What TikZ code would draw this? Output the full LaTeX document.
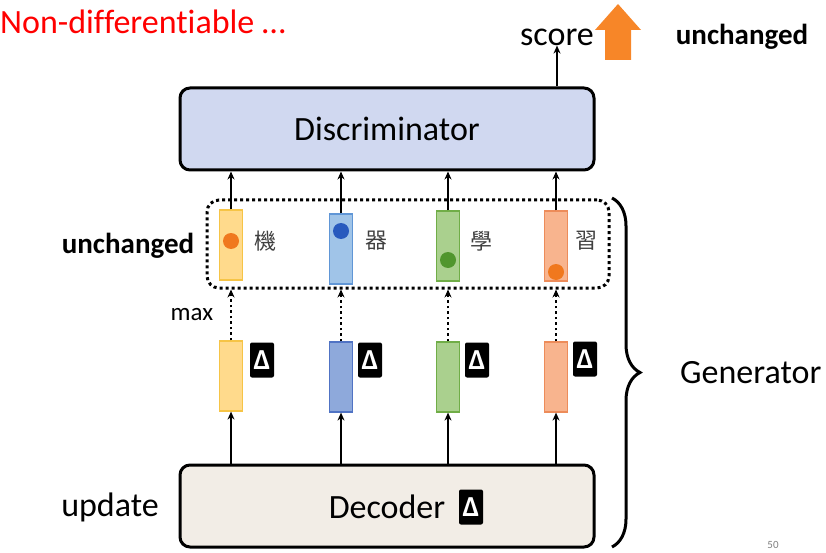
\documentclass[tikz,border=0pt]{standalone}
\usepackage{fontspec}
\setmainfont{Carlito}[Ligatures=NoCommon]
\newfontfamily\cjk{Noto Sans CJK TC}
\usetikzlibrary{arrows.meta,decorations.pathreplacing}
\definecolor{discfill}{RGB}{208,216,240}
\definecolor{decfill}{RGB}{242,237,230}
\definecolor{yelF}{RGB}{255,218,140}\definecolor{yelD}{RGB}{246,196,70}
\definecolor{bluF}{RGB}{160,196,232}\definecolor{bluD}{RGB}{96,150,214}
\definecolor{blu2F}{RGB}{142,169,219}\definecolor{blu2D}{RGB}{80,115,196}
\definecolor{greF}{RGB}{170,208,142}\definecolor{greD}{RGB}{112,173,71}
\definecolor{salF}{RGB}{248,180,142}\definecolor{salD}{RGB}{237,140,90}
\definecolor{dotO}{RGB}{240,120,30}\definecolor{dotB}{RGB}{40,90,190}\definecolor{dotG}{RGB}{80,150,45}
\definecolor{bigarrow}{RGB}{247,134,40}
\tikzset{
  bigbox/.style={draw=black,line width=3pt,rounded corners=10pt,minimum width=414pt,minimum height=82pt,font=\fontsize{34}{38}\selectfont},
  vec/.style={minimum width=23pt,minimum height=70pt,inner sep=0pt,line width=1.2pt},
  ball/.style={circle,minimum size=16pt,inner sep=0pt},
  delta/.style={fill=black,text=white,rounded corners=2pt,minimum width=24pt,minimum height=35pt,inner sep=0pt,font=\bfseries\fontsize{29}{30}\selectfont},
  arr/.style={line width=2pt,-{Stealth[length=8pt,width=7pt]}},
  dotarr/.style={line width=2.5pt,dash pattern=on 2.5pt off 3pt,-{Stealth[length=8pt,width=7pt]}},
  lab/.style={font=\fontsize{34}{38}\selectfont},
  blab/.style={font=\bfseries\fontsize{29}{32}\selectfont},
  ch/.style={font=\cjk\fontsize{22}{24}\selectfont,text=black!75},
}
\begin{document}
\begin{tikzpicture}[x=1pt,y=-1pt]
\useasboundingbox (0,0) rectangle (826,553);
% title
\node[anchor=west,text=red,font=\fontsize{34}{38}\selectfont,inner sep=0pt] (title) at (0,22) {Non-differentiable …};
% discriminator
\node[bigbox,fill=discfill] (disc) at (387,129) {Discriminator};
\node[lab,inner sep=0pt] (score) at (557,37) {score};
\node[blab,inner sep=0pt] (unc1) at (742,37) {unchanged};
\fill[bigarrow] (618,4) -- (641,30) -- (631,30) -- (631,60) -- (605,60) -- (605,30) -- (595,30) -- cycle;
\draw[arr] (disc.north -| score) -- (score.south);
% dotted box
\node[draw,line width=3pt,dash pattern=on 3pt off 3pt,rounded corners=12pt,minimum width=402pt,minimum height=88pt] (dbox) at (408,244) {};
\node[blab,inner sep=0pt] (unc2) at (128,246) {unchanged};
% top vectors
\node[vec,fill=yelF,draw=yelD] (t1) at (231,245) {};
\node[vec,fill=bluF,draw=bluD] (t2) at (341,249) {};
\node[vec,fill=greF,draw=greD] (t3) at (448,246) {};
\node[vec,fill=salF,draw=salD] (t4) at (556,246) {};
\node[ball,fill=dotO] (d1) at (231,241) {};
\node[ball,fill=dotB] (d2) at (341,231) {};
\node[ball,fill=dotG] (d3) at (448,260) {};
\node[ball,fill=dotO] (d4) at (556,272) {};
\node[ch] (c1) at (265,241) {機};
\node[ch] (c2) at (376,241) {器};
\node[ch] (c3) at (481,241) {學};
\node[ch] (c4) at (586,241) {習};
\foreach \i in {1,2,3,4} \draw[arr] (t\i.north) -- (t\i.north |- disc.south);
% bottom vectors
\node[vec,fill=yelF,draw=yelD] (b1) at (231,376) {};
\node[vec,fill=blu2F,draw=blu2D] (b2) at (341,377) {};
\node[vec,fill=greF,draw=greD] (b3) at (448,377) {};
\node[vec,fill=salF,draw=salD] (b4) at (556,377) {};
\node[delta] (e1) at (262,360) {Δ};
\node[delta] (e2) at (370,360) {Δ};
\node[delta] (e3) at (477,360) {Δ};
\node[delta] (e4) at (585,359) {Δ};
\foreach \i in {1,2,3,4} \draw[dotarr] (b\i.north) -- (b\i.north |- dbox.south);
\node[font=\fontsize{25}{28}\selectfont,inner sep=0pt] (max) at (192,315) {max};
% decoder
\node[bigbox,fill=decfill] (dec) at (387,506) {};
\node[lab,inner sep=0pt] (dectext) at (387,507) {Decoder};
\node[delta] (e5) at (471,507) {Δ};
\foreach \i in {1,2,3,4} \draw[arr] (b\i.south |- dec.north) -- (b\i.south);
\node[lab,inner sep=0pt] (upd) at (110,507) {update};
% brace
\draw[line width=3pt,decorate,decoration={brace,amplitude=28pt}] (612,198) -- (612,547);
\node[lab,anchor=west,inner sep=0pt] (gen) at (680,373) {Generator};
\node[text=black!50,font=\fontsize{11}{12}\selectfont] (pg) at (773,545) {50};
\end{tikzpicture}
\end{document}
